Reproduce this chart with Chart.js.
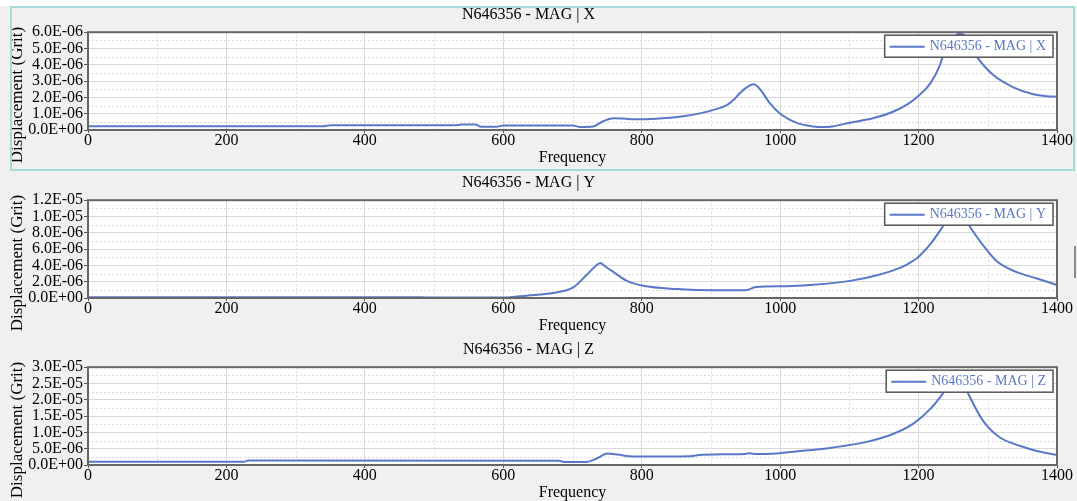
<!DOCTYPE html>
<html>
<head>
<meta charset="utf-8">
<script src="https://cdn.jsdelivr.net/npm/chart.js@4/dist/chart.umd.min.js"></script>
<style>
  html, body { margin: 0; padding: 0; }
  body { width: 1077px; height: 501px; overflow: hidden; background: #f0f0f0; position: relative; }
  #topstrip { position: absolute; left: 0; top: 0; width: 1077px; height: 6px; background: #ffffff; }
  .panel { position: absolute; left: 0; }
  #sel { position: absolute; left: 10px; top: 6px; width: 1065px; height: 165px; box-sizing: border-box; border: 2px solid #a6dada; pointer-events: none; }
  #bar { position: absolute; left: 1074px; top: 246px; width: 2px; height: 32px; background: #8a8a8a; }
</style>
</head>
<body>
<div id="topstrip"></div>
<canvas id="cX" class="panel" width="1077" height="167" style="top:0px"></canvas>
<canvas id="cY" class="panel" width="1077" height="167" style="top:168px"></canvas>
<canvas id="cZ" class="panel" width="1077" height="167" style="top:335px"></canvas>
<div id="sel"></div>
<div id="bar"></div>
<script>
// ---------------- DATA ----------------
const xTickStep = 200;
const freqMin = 0;
const freqMax = 1400;

const seriesNames = ['N646356 - MAG | X', 'N646356 - MAG | Y', 'N646356 - MAG | Z'];
const yAxisMax = [6.0e-6, 1.2e-5, 3.0e-5];
const yAxisStep = [1.0e-6, 2.0e-6, 5.0e-6];

const freqX = [0, 340, 350, 530, 540, 560, 568, 590, 600, 700, 710, 728, 745, 760, 780, 800, 830, 860, 884, 905, 923, 933, 942, 955, 962, 971, 985, 1000, 1024, 1048, 1060, 1075, 1101, 1134, 1163, 1185, 1200, 1217, 1231, 1238, 1250, 1258, 1265, 1284, 1308, 1337, 1366, 1385, 1400];
const valX  = [2.3e-7, 2.3e-7, 2.9e-7, 2.9e-7, 3.3e-7, 3.3e-7, 2.0e-7, 2.0e-7, 2.8e-7, 2.8e-7, 1.9e-7, 2.0e-7, 5.5e-7, 7.2e-7, 6.8e-7, 6.6e-7, 7.2e-7, 8.5e-7, 1.02e-6, 1.25e-6, 1.53e-6, 1.85e-6, 2.27e-6, 2.7e-6, 2.8e-6, 2.5e-6, 1.65e-6, 1.0e-6, 4.4e-7, 2.2e-7, 1.8e-7, 2.2e-7, 4.5e-7, 7.2e-7, 1.12e-6, 1.6e-6, 2.1e-6, 2.86e-6, 4.0e-6, 4.9e-6, 5.6e-6, 5.9e-6, 5.85e-6, 4.5e-6, 3.37e-6, 2.62e-6, 2.19e-6, 2.07e-6, 2.04e-6];

const freqY = [0, 480, 500, 600, 634, 672, 701, 720, 733, 740, 747, 759, 778, 802, 851, 903, 950, 965, 1010, 1043, 1101, 1140, 1173, 1185, 1197, 1207, 1217, 1236, 1246, 1255, 1264, 1273, 1293, 1313, 1341, 1371, 1400];
const valY  = [1.0e-7, 1.0e-7, 5e-8, 5e-8, 2.9e-7, 6.2e-7, 1.3e-6, 2.8e-6, 3.9e-6, 4.3e-6, 3.9e-6, 3.2e-6, 2.12e-6, 1.5e-6, 1.1e-6, 9.5e-7, 9.5e-7, 1.35e-6, 1.45e-6, 1.6e-6, 2.1e-6, 2.8e-6, 3.7e-6, 4.2e-6, 4.85e-6, 5.65e-6, 6.6e-6, 8.9e-6, 1.02e-5, 1.1e-5, 1.02e-5, 8.9e-6, 6.5e-6, 4.5e-6, 3.2e-6, 2.4e-6, 1.6e-6];

const freqZ = [0, 225, 232, 680, 690, 720, 735, 750, 765, 787, 870, 880, 918, 950, 956, 962, 981, 1029, 1077, 1125, 1163, 1192, 1217, 1236, 1246, 1255, 1264, 1271, 1293, 1317, 1346, 1371, 1400];
const valZ  = [1.0e-6, 1.0e-6, 1.4e-6, 1.3e-6, 9e-7, 9e-7, 2.0e-6, 3.5e-6, 3.2e-6, 2.6e-6, 2.7e-6, 3.0e-6, 3.3e-6, 3.4e-6, 3.6e-6, 3.4e-6, 3.4e-6, 4.3e-6, 5.4e-6, 7.1e-6, 9.5e-6, 1.26e-5, 1.72e-5, 2.22e-5, 2.55e-5, 2.75e-5, 2.55e-5, 2.22e-5, 1.36e-5, 8.5e-6, 5.9e-6, 4.3e-6, 3.1e-6];

// ---------------- STYLE ----------------
const FONT = "'Liberation Serif', 'Times New Roman', serif";
const LINE_COLOR = '#5878c8';
const LEGEND_TEXT = '#5a78c2';

function sci(v) {
  if (Math.abs(v) < 1e-20) v = 0;
  const s = v.toExponential(1);
  const parts = s.split('e');
  const e = parts[1];
  const sign = e[0] === '-' ? '-' : '+';
  const d = e.replace(/[+-]/, '');
  return parts[0] + 'E' + sign + d.padStart(2, '0');
}

const decoPlugin = {
  id: 'deco',
  beforeDraw(chart) {
    const { ctx, chartArea: a } = chart;
    ctx.save();
    ctx.fillStyle = '#ffffff';
    ctx.fillRect(a.left, a.top, a.right - a.left, a.bottom - a.top);
    ctx.restore();
  },
  beforeDatasetsDraw(chart) {
    const { ctx, chartArea: a, scales } = chart;
    const xs = scales.x, ys = scales.y;
    ctx.save();
    ctx.strokeStyle = '#dcdcdc';
    ctx.lineWidth = 1;
    ctx.setLineDash([2, 2]);
    for (let v = xTickStep / 2; v < freqMax; v += xTickStep) {
      const px = Math.round(xs.getPixelForValue(v)) + 0.5;
      ctx.beginPath(); ctx.moveTo(px, a.top); ctx.lineTo(px, a.bottom); ctx.stroke();
    }
    const st = ys.options.ticks.stepSize;
    for (let i = 0; i < Math.round(ys.max / st); i++) {
      const py = Math.round(ys.getPixelForValue((i + 0.5) * st)) + 0.5;
      ctx.beginPath(); ctx.moveTo(a.left, py); ctx.lineTo(a.right, py); ctx.stroke();
    }
    ctx.restore();
  },
  afterDatasetsDraw(chart) {
    const { ctx, chartArea: a } = chart;
    ctx.save();
    // plot border
    ctx.strokeStyle = '#666666';
    ctx.lineWidth = 2;
    ctx.strokeRect(a.left, a.top, a.right - a.left, a.bottom - a.top);
    // legend box inside plot
    const label = chart.data.datasets[0].label;
    ctx.font = '14px ' + FONT;
    const tw = ctx.measureText(label).width;
    const boxW = 5 + 35 + 5 + tw + 7;
    const boxH = 22;
    const bx = a.right - 4 - boxW;
    const by = a.top + 3;
    ctx.fillStyle = '#ffffff';
    ctx.fillRect(bx, by, boxW, boxH);
    ctx.strokeStyle = '#555555';
    ctx.lineWidth = 1.5;
    ctx.strokeRect(bx, by, boxW, boxH);
    ctx.strokeStyle = LINE_COLOR;
    ctx.lineWidth = 2;
    ctx.beginPath(); ctx.moveTo(bx + 5, by + 11.5); ctx.lineTo(bx + 40, by + 11.5); ctx.stroke();
    ctx.fillStyle = LEGEND_TEXT;
    ctx.textBaseline = 'middle';
    ctx.textAlign = 'left';
    ctx.fillText(label, bx + 45, by + 11.5);
    ctx.restore();
  },
  afterDraw(chart) {
    const { ctx } = chart;
    ctx.save();
    ctx.translate(17.5, 95);
    ctx.rotate(-Math.PI / 2);
    ctx.font = '17px ' + FONT;
    ctx.fillStyle = '#000000';
    ctx.textAlign = 'center';
    ctx.textBaseline = 'middle';
    ctx.fillText('Displacement (Grit)', 0, 0);
    ctx.restore();
  }
};

function makeChart(id, freqs, vals, name, ymax, ystep) {
  const pts = freqs.map((f, i) => ({ x: f, y: vals[i] }));
  return new Chart(document.getElementById(id), {
    type: 'line',
    data: {
      datasets: [{
        label: name,
        data: pts,
        borderColor: LINE_COLOR,
        borderWidth: 2,
        pointRadius: 0,
        fill: false,
        cubicInterpolationMode: 'monotone'
      }]
    },
    options: {
      responsive: false,
      animation: false,
      devicePixelRatio: 1,
      layout: { padding: { left: 0, right: 20, top: 0, bottom: 0 } },
      plugins: {
        legend: { display: false },
        tooltip: { enabled: false },
        title: {
          display: true,
          text: name,
          color: '#000000',
          font: { family: FONT, size: 16, weight: 'normal' },
          padding: { top: 5, bottom: 8 }
        }
      },
      scales: {
        x: {
          type: 'linear',
          min: freqMin,
          max: freqMax,
          afterFit(s) { s.height = 37; },
          ticks: {
            stepSize: xTickStep,
            color: '#000000',
            font: { family: FONT, size: 16, lineHeight: 1.0 },
            padding: 0,
            maxRotation: 0,
            autoSkip: false,
            callback: (v) => String(v)
          },
          grid: { color: '#d9d9d9', lineWidth: 1, tickLength: 3, tickColor: '#555555' },
          border: { display: false },
          title: {
            display: true,
            text: 'Frequency',
            color: '#000000',
            font: { family: FONT, size: 16 },
            padding: { top: 0, bottom: 0 }
          }
        },
        y: {
          type: 'linear',
          min: 0,
          max: ymax,
          afterFit(s) { s.width = 88; },
          ticks: {
            stepSize: ystep,
            color: '#000000',
            font: { family: FONT, size: 16, lineHeight: 1.0 },
            padding: 1,
            autoSkip: false,
            callback: (v) => sci(v)
          },
          grid: { color: '#d9d9d9', lineWidth: 1, tickLength: 4, tickColor: '#555555' },
          border: { display: false }
        }
      }
    },
    plugins: [decoPlugin]
  });
}

makeChart('cX', freqX, valX, seriesNames[0], yAxisMax[0], yAxisStep[0]);
makeChart('cY', freqY, valY, seriesNames[1], yAxisMax[1], yAxisStep[1]);
makeChart('cZ', freqZ, valZ, seriesNames[2], yAxisMax[2], yAxisStep[2]);
</script>
</body>
</html>
